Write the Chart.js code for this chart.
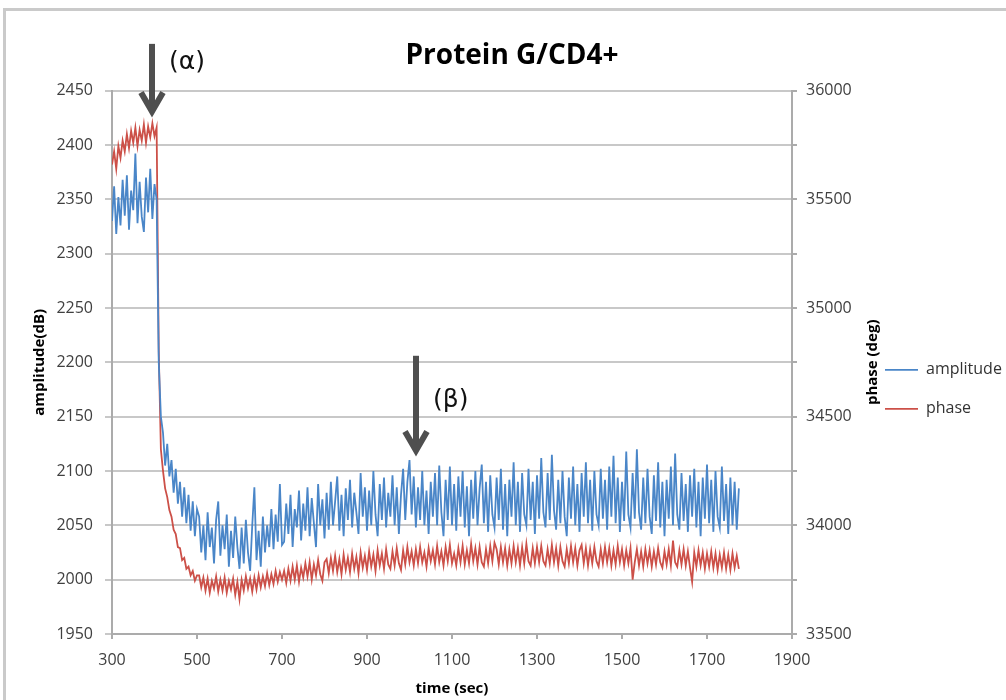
<!DOCTYPE html>
<html>
<head>
<meta charset="utf-8">
<title>Protein G/CD4+</title>
<script src="https://cdn.jsdelivr.net/npm/chart.js@4.4.1/dist/chart.umd.min.js"></script>
<style>
    html, body { margin: 0; padding: 0; background: #fff; overflow: hidden; }
    #frame { position: absolute; left: 3px; top: 8px; width: 1040px; height: 720px; border: 3px solid #cacaca; box-sizing: border-box; }
    #chart { position: absolute; left: 0; top: 0; }
</style>
</head>
<body>
<div id="frame"></div>
<canvas id="chart" width="1006" height="700"></canvas>
<script>
// sampling grid of the recording (sec)
const timeStart = 300;
const timeStep = 5;

// amplitude (dB), one value every 5 sec from 300 to 1775
const amplitude = [
    // 300 - 400
    2330, 2362, 2318, 2352, 2326, 2368, 2335, 2372, 2322, 2358, 2340, 2392, 2328, 2366, 2334, 2320, 2370, 2338, 2378, 2332, 2364,
    // 405 - 500 (injection, drop)
    2350, 2200, 2150, 2135, 2105, 2125, 2095, 2110, 2080, 2102, 2070, 2090, 2058, 2085, 2052, 2078, 2045, 2072, 2040, 2065,
    // 505 - 700
    2058, 2025, 2050, 2018, 2062, 2030, 2048, 2015, 2055, 2072,
    2022, 2050, 2028, 2060, 2012, 2045, 2020, 2058, 2030, 2010,
    2048, 2015, 2055, 2025, 2008, 2050, 2085, 2018, 2045, 2012,
    2058, 2025, 2050, 2030, 2065, 2028, 2060, 2035, 2088, 2032,
    // 705 - 1000
    2035, 2070, 2042, 2078, 2030, 2065, 2048, 2082, 2036, 2070,
    2045, 2085, 2040, 2075, 2052, 2030, 2088, 2050, 2074, 2038,
    2080, 2046, 2090, 2050, 2072, 2095, 2045, 2078, 2040, 2084,
    2055, 2092, 2048, 2080, 2062, 2042, 2098, 2058, 2085, 2045,
    2082, 2050, 2100, 2060, 2040, 2088, 2055, 2094, 2048, 2080,
    2058, 2096, 2050, 2085, 2042, 2078, 2102, 2055, 2090, 2110,
    // 1005 - 1775
    2060, 2095, 2048, 2085, 2055, 2100, 2050, 2082, 2042, 2090,
    2058, 2098, 2050, 2105, 2062, 2040, 2092, 2055, 2104, 2050,
    2088, 2045, 2095, 2058, 2100, 2048, 2086, 2040, 2092, 2056,
    2100, 2050, 2084, 2106, 2052, 2090, 2044, 2096, 2060, 2048,
    2094, 2055, 2102, 2046, 2088, 2040, 2092, 2058, 2108, 2050,
    2090, 2044, 2098, 2060, 2050, 2102, 2055, 2090, 2042, 2096,
    2056, 2112, 2062, 2048, 2098, 2055, 2115, 2064, 2046, 2092,
    2052, 2100, 2058, 2040, 2094, 2056, 2104, 2050, 2088, 2044,
    2098, 2058, 2108, 2052, 2092, 2045, 2100, 2060, 2050, 2102,
    2056, 2092, 2046, 2104, 2058, 2114, 2052, 2094, 2044, 2090,
    2054, 2118, 2060, 2048, 2098, 2056, 2120, 2062, 2046, 2094,
    2052, 2102, 2058, 2042, 2096, 2054, 2108, 2048, 2090, 2040,
    2092, 2056, 2104, 2050, 2116, 2060, 2046, 2098, 2054, 2088,
    2044, 2096, 2058, 2102, 2048, 2090, 2040, 2094, 2056, 2106,
    2052, 2092, 2044, 2100, 2058, 2048, 2104, 2054, 2088, 2042,
    2094, 2050, 2090, 2046, 2084
];

// phase (deg), same sampling
const phase = [
    // 300 - 400
    35660, 35720, 35640, 35745, 35690, 35770, 35720, 35800, 35735, 35815, 35760, 35830, 35745, 35820, 35770, 35845, 35760, 35835, 35785, 35850, 35790,
    // 405 - 500
    35830, 34800, 34350, 34250, 34170, 34130, 34070, 34040, 33980, 33960, 33900, 33895, 33840, 33850, 33800, 33810, 33770, 33790, 33745, 33770,
    // 505 - 700
    33770, 33715, 33760, 33700, 33755, 33690, 33745, 33710, 33765, 33695,
    33750, 33700, 33760, 33690, 33745, 33705, 33755, 33680, 33740, 33660,
    33750, 33700, 33765, 33710, 33755, 33695, 33760, 33705, 33770, 33715,
    33765, 33720, 33780, 33725, 33775, 33730, 33790, 33740, 33785, 33750,
    // 705 - 1000
    33790, 33735, 33800, 33745, 33810, 33750, 33815, 33740, 33805, 33760,
    33825, 33765, 33830, 33750, 33820, 33770, 33840, 33775, 33745, 33830,
    33845, 33780, 33850, 33790, 33860, 33785, 33845, 33775, 33865, 33795,
    33850, 33785, 33870, 33800, 33855, 33780, 33875, 33805, 33860, 33795,
    33880, 33810, 33865, 33790, 33885, 33815, 33870, 33800, 33890, 33820,
    33800, 33880, 33815, 33895, 33825, 33795, 33885, 33820, 33900, 33830,
    // 1005 - 1775
    33880, 33815, 33890, 33825, 33900, 33830, 33875, 33810, 33895, 33835,
    33885, 33820, 33905, 33830, 33880, 33815, 33900, 33835, 33910, 33825,
    33870, 33815, 33895, 33830, 33905, 33820, 33885, 33825, 33915, 33835,
    33895, 33820, 33900, 33830, 33810, 33890, 33825, 33905, 33835, 33920,
    33890, 33820, 33900, 33830, 33895, 33815, 33890, 33825, 33905, 33830,
    33895, 33815, 33900, 33825, 33915, 33835, 33815, 33895, 33825, 33900,
    33830, 33905, 33835, 33815, 33890, 33825, 33910, 33830, 33895, 33815,
    33900, 33835, 33810, 33890, 33825, 33905, 33830, 33895, 33815, 33885,
    33910, 33825, 33895, 33815, 33890, 33825, 33900, 33835, 33810, 33890,
    33825, 33900, 33830, 33895, 33815, 33885, 33820, 33905, 33830, 33890,
    33815, 33885, 33825, 33895, 33750, 33830, 33890, 33815, 33880, 33810,
    33890, 33825, 33885, 33810, 33880, 33820, 33895, 33830, 33805, 33880,
    33820, 33890, 33815, 33930, 33830, 33810, 33885, 33820, 33890, 33815,
    33880, 33805, 33740, 33875, 33810, 33885, 33815, 33875, 33800, 33870,
    33810, 33880, 33805, 33870, 33795, 33865, 33805, 33875, 33800, 33865,
    33795, 33870, 33805, 33860, 33800
];

const seriesNames = ['amplitude', 'phase'];
const seriesColors = ['#4a86c8', '#cc5048'];

// arrows marking the two events, in data units (time, amplitude)
const arrows = [
    { label: '(α)', time: 394, from: 2493, to: 2429, labelAt: 2476 },
    { label: '(β)', time: 1015, from: 2206, to: 2117, labelAt: 2165 }
];

const font = '"Open Sans", "DejaVu Sans", sans-serif';
const gridColor = '#c8c8c8';
const axisColor = '#ababab';
const tickColor = '#404040';

const toPoints = values => values.map((v, i) => ({ x: timeStart + i * timeStep, y: v }));

// draws the two event arrows and the right hand axis title
const annotate = {
    id: 'annotate',
    afterLayout(chart) {
        // push the legend down next to the middle of the right axis
        chart.legend.top += 27;
        chart.legend.bottom += 27;
    },
    afterDraw(chart) {
        const { ctx, chartArea, scales } = chart;
        ctx.save();
        ctx.fillStyle = '#000';
        ctx.font = 'bold 15px ' + font;
        ctx.textAlign = 'center';
        ctx.textBaseline = 'middle';
        ctx.translate(chartArea.right + 81, (chartArea.top + chartArea.bottom) / 2);
        ctx.rotate(-Math.PI / 2);
        ctx.fillText('phase (deg)', 0, 0);
        ctx.restore();

        arrows.forEach(a => {
            const x = Math.round(scales.x.getPixelForValue(a.time));
            const top = scales.y.getPixelForValue(a.from);
            const tip = scales.y.getPixelForValue(a.to);
            ctx.save();
            ctx.strokeStyle = '#4f4f4f';
            ctx.lineWidth = 6;
            ctx.beginPath();
            ctx.moveTo(x, top);
            ctx.lineTo(x, tip - 4);
            ctx.stroke();
            ctx.beginPath();
            ctx.moveTo(x - 11, tip - 21);
            ctx.lineTo(x, tip - 2);
            ctx.lineTo(x + 11, tip - 21);
            ctx.stroke();
            ctx.fillStyle = '#111';
            ctx.font = '25px "DejaVu Sans", sans-serif';
            ctx.textAlign = 'left';
            ctx.textBaseline = 'middle';
            ctx.fillText(a.label, x + 17, scales.y.getPixelForValue(a.labelAt));
            ctx.restore();
        });
    }
};

new Chart(document.getElementById('chart'), {
    type: 'line',
    data: {
        datasets: [
            {
                label: seriesNames[0],
                data: toPoints(amplitude),
                borderColor: seriesColors[0],
                backgroundColor: seriesColors[0],
                borderWidth: 1.8,
                pointRadius: 0,
                yAxisID: 'y'
            },
            {
                label: seriesNames[1],
                data: toPoints(phase),
                borderColor: seriesColors[1],
                backgroundColor: seriesColors[1],
                borderWidth: 1.8,
                pointRadius: 0,
                yAxisID: 'y1'
            }
        ]
    },
    options: {
        responsive: false,
        animation: false,
        layout: { padding: { top: 10, left: 18, right: 0, bottom: 0 } },
        plugins: {
            title: {
                display: true,
                text: 'Protein G/CD4+',
                color: '#000',
                font: { family: font, size: 28, weight: 'bold' },
                padding: { top: 29, bottom: 18 }
            },
            legend: {
                position: 'right',
                fullSize: false,
                maxWidth: 144,
                labels: {
                    usePointStyle: true,
                    pointStyle: 'line',
                    pointStyleWidth: 33,
                    padding: 23,
                    color: '#333',
                    font: { family: font, size: 16 }
                }
            },
            tooltip: { enabled: false }
        },
        scales: {
            x: {
                type: 'linear',
                min: 300,
                max: 1900,
                afterFit: s => { s.height = 66; },
                ticks: { stepSize: 200, color: tickColor, padding: 12, font: { family: font, size: 16 }, callback: v => String(v) },
                grid: { drawOnChartArea: false, tickLength: 5, color: axisColor, lineWidth: 2 },
                border: { color: axisColor, width: 2 },
                title: {
                    display: true,
                    text: 'time (sec)',
                    color: '#000',
                    font: { family: font, size: 15, weight: 'bold' },
                    padding: { top: 2, bottom: 2 }
                }
            },
            y: {
                position: 'left',
                min: 1950,
                max: 2450,
                afterFit: s => { s.width = 94; },
                ticks: { stepSize: 50, color: tickColor, padding: 12, font: { family: font, size: 16 }, callback: v => String(v) },
                grid: { color: gridColor, lineWidth: 2, tickLength: 7 },
                border: { color: axisColor, width: 2 },
                title: {
                    display: true,
                    text: 'amplitude(dB)',
                    color: '#000',
                    font: { family: font, size: 15, weight: 'bold' },
                    padding: { top: 13, bottom: 0 }
                }
            },
            y1: {
                position: 'right',
                min: 33500,
                max: 36000,
                afterFit: s => { s.width = 70; },
                ticks: {
                    stepSize: 250,
                    color: tickColor,
                    padding: 9,
                    font: { family: font, size: 16 },
                    callback: v => (v % 500 === 0 ? String(v) : '')
                },
                grid: { drawOnChartArea: false, color: axisColor, lineWidth: 2, tickLength: 5 },
                border: { color: axisColor, width: 2 }
            }
        }
    },
    plugins: [annotate]
});
</script>
</body>
</html>
